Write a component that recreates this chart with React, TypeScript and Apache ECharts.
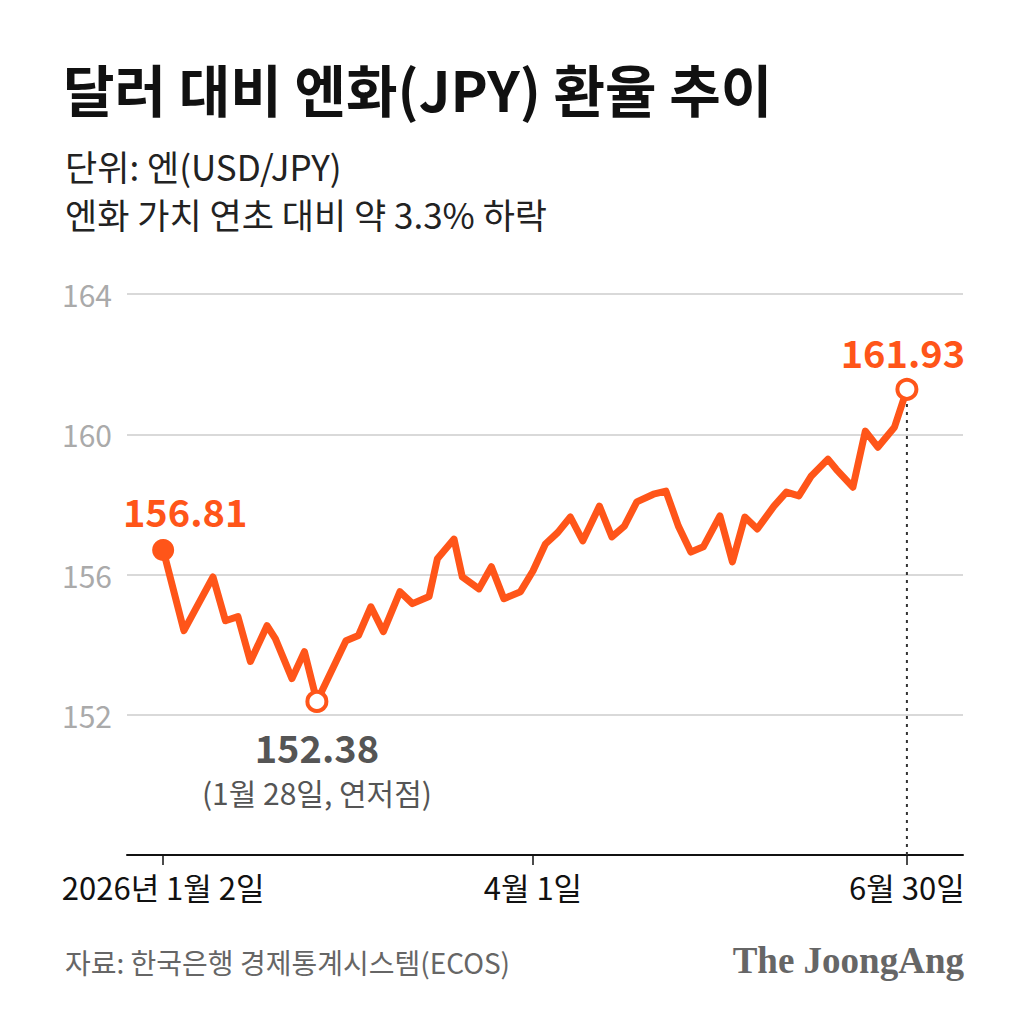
import React, { useEffect, useRef } from "react";
import * as echarts from "echarts";

// Days since 2026-01-02 (calendar-day position on the axis)
const dayOffsets = [
  0, 5, 12, 15, 18, 21, 25, 27, 31, 34, 37, 44, 47, 50, 53, 57, 60, 64, 66, 70,
  72, 76, 79, 82, 86, 89, 92, 95, 98, 101, 105, 108, 111, 114, 118, 121, 124, 127,
  130, 134, 137, 140, 143, 147, 150, 153, 156, 160, 162, 166, 169, 172, 176, 179,
];
// Plotted line values
const jpyValues = [
  156.7, 154.4, 155.93, 154.68, 154.8, 153.52, 154.54, 154.17, 153.03, 153.8, 152.38,
  154.11, 154.26, 155.08, 154.37, 155.51, 155.17, 155.37, 156.45, 157.01, 155.93,
  155.59, 156.22, 155.31, 155.51, 156.1, 156.87, 157.2, 157.64, 156.96, 157.95, 157.07,
  157.38, 158.07, 158.29, 158.38, 157.38, 156.64, 156.79, 157.67, 156.36, 157.64, 157.3,
  157.95, 158.35, 158.24, 158.81, 159.29, 159.0, 158.49, 160.09, 159.63, 160.2, 161.28,
];
// Callout labels printed next to the start, low and end points
const startLabel = "156.81";
const lowLabel = "152.38";
const lowNote = "(1월 28일, 연저점)";
const endLabel = "161.93";
const xTickDays = [0, 89, 179];
const xTickLabels = ["2026년 1월 2일", "4월 1일", "6월 30일"];
const yTicks = [152, 156, 160, 164];

const ORANGE = "#FF5519";
const FONT = "'Noto Sans CJK KR', 'Noto Sans', sans-serif";

export default function App() {
  const ref = useRef<HTMLDivElement>(null);
  useEffect(() => {
    const chart = echarts.init(ref.current!, null, { renderer: "svg" });
    const minIdx = jpyValues.indexOf(Math.min(...jpyValues));
    const lastIdx = jpyValues.length - 1;
    const bigLabel = {
      show: true,
      position: "top",
      color: ORANGE,
      fontSize: 38,
      fontWeight: "bold",
      fontFamily: FONT,
    };
    const data = dayOffsets.map((d, i) => {
      const item: any = { value: [d, jpyValues[i]] };
      if (i === 0) {
        item.symbol = "circle";
        item.symbolSize = 22;
        item.itemStyle = { color: ORANGE, borderWidth: 0 };
        item.label = { ...bigLabel, offset: [22, -4], formatter: startLabel };
      } else if (i === minIdx || i === lastIdx) {
        item.symbol = "circle";
        item.symbolSize = 19;
        item.itemStyle = { color: "#ffffff", borderColor: ORANGE, borderWidth: 4 };
        item.label =
          i === minIdx
            ? {
                show: true,
                position: "bottom",
                distance: 10,
                formatter: `{a|${lowLabel}}\n{b|${lowNote}}`,
                rich: {
                  a: { fontSize: 38, fontWeight: "bold", color: "#555555", fontFamily: FONT, lineHeight: 48, align: "center" },
                  b: { fontSize: 30, color: "#555555", fontFamily: FONT, lineHeight: 42, align: "center" },
                },
              }
            : { ...bigLabel, offset: [-4, -2], formatter: endLabel };
      }
      return item;
    });

    chart.setOption({
      animation: false,
      backgroundColor: "#ffffff",
      title: [
        {
          text: "달러 대비 엔화(JPY) 환율 추이",
          left: 58,
          top: 54,
          textStyle: { fontSize: 56, fontWeight: "bold", color: "#111111", fontFamily: FONT },
        },
        {
          text: "단위: 엔(USD/JPY)",
          left: 60,
          top: 143,
          textStyle: { fontSize: 35, fontWeight: "normal", color: "#222222", fontFamily: FONT },
        },
        {
          text: "엔화 가치 연초 대비 약 3.3% 하락",
          left: 60,
          top: 191,
          textStyle: { fontSize: 35, fontWeight: "normal", color: "#222222", fontFamily: FONT },
        },
        {
          text: "자료: 한국은행 경제통계시스템(ECOS)",
          left: 60,
          top: 943,
          textStyle: { fontSize: 28, fontWeight: "normal", color: "#666666", fontFamily: FONT },
        },
        {
          text: "The JoongAng",
          right: 55,
          top: 937,
          textStyle: {
            fontSize: 37,
            fontWeight: "bold",
            color: "#666666",
            fontFamily: "'Liberation Serif', 'DejaVu Serif', serif",
          },
        },
      ],
      grid: { left: 127, right: 61, top: 294, bottom: 169, containLabel: false },
      xAxis: {
        type: "value",
        min: -8.7,
        max: 192.5,
        splitLine: { show: false },
        axisLine: { show: true, lineStyle: { color: "#111111", width: 2 } },
        axisTick: {
          show: true,
          customValues: xTickDays,
          length: 10,
          inside: false,
          lineStyle: { color: "#111111", width: 1.5 },
        },
        axisLabel: {
          show: true,
          customValues: xTickDays,
          formatter: (v: number) => xTickLabels[xTickDays.indexOf(Math.round(v))] ?? "",
          color: "#111111",
          fontSize: 31,
          margin: 16,
          fontFamily: FONT,
        },
      },
      yAxis: {
        type: "value",
        min: 148,
        max: 164,
        interval: 4,
        axisLine: { show: false },
        axisTick: { show: false },
        splitLine: { lineStyle: { color: "#cccccc", width: 1.5 } },
        axisLabel: {
          formatter: (v: number) => (yTicks.includes(v) ? String(v) : ""),
          color: "#aaaaaa",
          fontSize: 30,
          margin: 15,
          fontFamily: FONT,
        },
      },
      series: [
        {
          type: "line",
          data: [
            [dayOffsets[lastIdx], 148],
            [dayOffsets[lastIdx], jpyValues[lastIdx]],
          ],
          symbol: "none",
          lineStyle: { color: "#333333", width: 2, type: [3, 5] },
          z: 1,
          silent: true,
        },
        {
          type: "line",
          data,
          symbol: "none",
          showSymbol: true,
          lineStyle: { color: ORANGE, width: 7, join: "round", cap: "round" },
          itemStyle: { color: ORANGE },
          z: 3,
        },
      ],
    });
    return () => chart.dispose();
  }, []);
  return <div ref={ref} style={{ width: 1024, height: 1024, margin: -8 }} />;
}
